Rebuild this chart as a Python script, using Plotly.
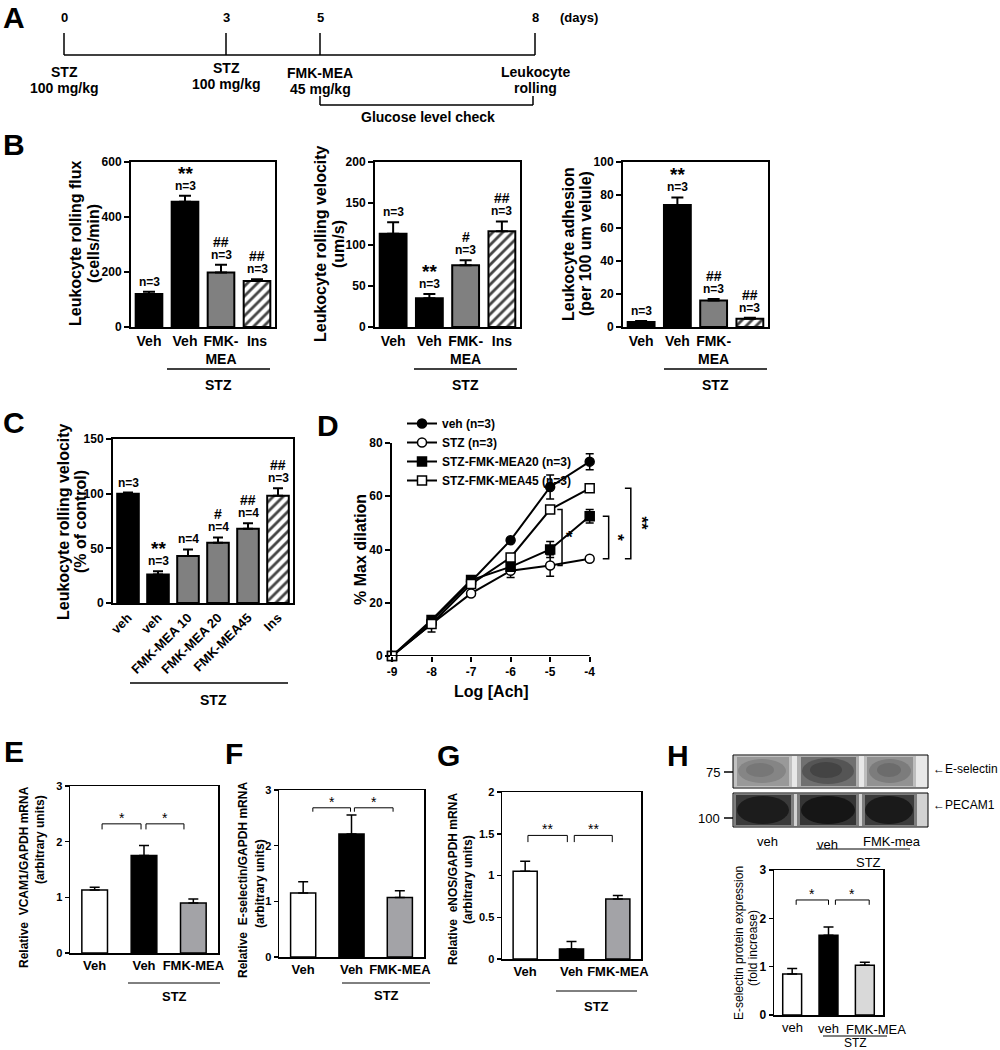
import plotly.graph_objects as go

W, H = 1000, 1050
FONT = "Liberation Sans, Arial, Helvetica, sans-serif"

# ======================= DATA =======================
# A  (timeline)
A_days = ["0", "3", "5", "8"]
A_events = [["STZ", "100 mg/kg"], ["STZ", "100 mg/kg"], ["FMK-MEA", "45 mg/kg"], ["Leukocyte", "rolling"]]
A_window = "Glucose level check"

# B
B_cats = ["Veh", "Veh", "FMK-<br>MEA", "Ins"]
B3_cats = ["Veh", "Veh", "FMK-<br>MEA", ""]
B_n = ["n=3", "n=3", "n=3", "n=3"]
B_flux = [120, 455, 198, 167]
B_flux_err = [8, 22, 28, 7]
B_flux_sig = ["", "**", "##", "##"]
B_vel = [113, 35, 75, 116]
B_vel_err = [14, 5, 6, 12]
B_vel_sig = ["", "**", "#", "##"]
B_adh = [3, 74, 16, 5]
B_adh_err = [0.6, 4.5, 1.0, 0.6]
B_adh_sig = ["", "**", "##", "##"]

# C
C_cats = ["veh", "veh", "FMK-MEA 10", "FMK-MEA 20", "FMK-MEA45", "Ins"]
C_vals = [100, 26, 43, 55, 68, 98]
C_err = [1, 3, 6, 5, 5, 7]
C_n = ["n=3", "n=3", "n=4", "n=4", "n=4", "n=3"]
C_sig = ["", "**", "", "#", "##", "##"]

# D
D_x = [-9, -8, -7, -6, -5, -4]
D_xlabels = ["-9", "-8", "-7", "-6", "-5", "-4"]
D_names = ["veh (n=3)", "STZ (n=3)", "STZ-FMK-MEA20 (n=3)", "STZ-FMK-MEA45 (n=3)"]
D_veh = [0, 13, 28, 43.5, 63.5, 73]
D_veh_err = [0, 1, 1, 0.8, 4.5, 3]
D_stz = [0, 12, 23.5, 32, 34, 36.5]
D_stz_err = [0, 3, 1, 2.5, 4, 0.8]
D_f20 = [0, 13.5, 28.5, 33.5, 40, 52.5]
D_f20_err = [0, 1, 1, 1, 3, 2.5]
D_f45 = [0, 12, 27, 37, 55, 63]
D_f45_err = [0, 1, 1, 1, 1, 1]

# E - H
EFG_cats = ["Veh", "Veh", "FMK-MEA"]
E_vals = [1.13, 1.75, 0.90]
E_err = [0.05, 0.18, 0.07]
F_vals = [1.15, 2.21, 1.07]
F_err = [0.20, 0.34, 0.12]
G_vals = [1.05, 0.12, 0.72]
G_err = [0.12, 0.09, 0.04]
H_cats = ["veh", "veh", "FMK-MEA"]
H_vals = [0.85, 1.65, 1.03]
H_err = [0.11, 0.17, 0.06]
EFGH_sig = ["*", "*", "**", "*"]
H_blot_lanes = ["veh", "veh", "FMK-mea"]
H_blot_markers = ["75", "100"]
H_blot_proteins = ["E-selectin", "PECAM1"]

# ======================= HELPERS =======================
fig = go.Figure()
layout = dict(width=W, height=H, margin=dict(l=0, r=0, t=0, b=0),
              paper_bgcolor="white", plot_bgcolor="white", template="none",
              font=dict(family=FONT, color="black"), hovermode=False, barmode="overlay")
shapes, annots = [], []


def X(p):
    return p / W


def Y(p):
    return 1 - p / H


def font(size, bold=True):
    return dict(family=FONT, size=size, color="black", weight=("bold" if bold else "normal"))


def text(x, y, s, size=14, bold=True, angle=0, xa="center", ya="middle"):
    annots.append(dict(x=X(x), y=Y(y), xref="paper", yref="paper", text=s, showarrow=False,
                       textangle=angle, xanchor=xa, yanchor=ya, font=font(size, bold)))


def seg(x0, y0, x1, y1, w=1.5, c="black"):
    shapes.append(dict(type="line", xref="paper", yref="paper", x0=X(x0), y0=Y(y0),
                       x1=X(x1), y1=Y(y1), line=dict(color=c, width=w)))


def rect(x0, y0, x1, y1, fill, lw=0, lc="black", op=1):
    shapes.append(dict(type="rect", xref="paper", yref="paper", x0=X(x0), y0=Y(y1), x1=X(x1), y1=Y(y0),
                       fillcolor=fill, opacity=op, line=dict(width=lw, color=lc if lw else "rgba(0,0,0,0)")))


def ell(cx, cy, rx, ry, fill, op=1):
    shapes.append(dict(type="circle", xref="paper", yref="paper", x0=X(cx - rx), x1=X(cx + rx),
                       y0=Y(cy + ry), y1=Y(cy - ry), fillcolor=fill, opacity=op,
                       line=dict(width=0, color="rgba(0,0,0,0)")))


def names(i):
    s = "" if i == 1 else str(i)
    return "x" + s, "y" + s, "xaxis" + s, "yaxis" + s


def bar_panel(i, xpx, ypx, cats, vals, errs, colors, patterns, yr, yt, width, lw,
              ytick_size, xtick_size, xbold=True, tickangle=0, ticklen=5, capw=5, show_xlabels=True):
    xr, yrf, xa, ya = names(i)
    n = len(vals)
    layout[xa] = dict(domain=[X(xpx[0]), X(xpx[1])], range=[-0.5, n - 0.5], anchor=yrf,
                      showline=True, mirror=True, linecolor="black", linewidth=lw, ticks="",
                      tickmode="array", tickvals=list(range(n)), ticktext=cats,
                      showticklabels=show_xlabels,
                      tickfont=font(xtick_size, xbold), tickangle=tickangle,
                      showgrid=False, zeroline=False, automargin=False, fixedrange=True)
    layout[ya] = dict(domain=[Y(ypx[1]), Y(ypx[0])], range=yr, anchor=xr, showline=True, mirror=True,
                      linecolor="black", linewidth=lw, ticks="outside", ticklen=ticklen, tickwidth=lw,
                      tickcolor="black", tickmode="array", tickvals=yt, tickfont=font(ytick_size, True),
                      showgrid=False, zeroline=False, automargin=False, fixedrange=True)
    groups = {}
    for k in range(n):
        groups.setdefault(patterns[k], []).append(k)
    for pat, idx in groups.items():
        marker = dict(color=[colors[k] for k in idx], line=dict(color="black", width=lw))
        if pat:
            marker["pattern"] = dict(shape=pat, fgcolor="black", bgcolor="white", fgopacity=1,
                                     size=7, solidity=0.4, fillmode="overlay")
        fig.add_trace(go.Bar(
            x=idx, y=[vals[k] for k in idx], width=width, xaxis=xr, yaxis=yrf, marker=marker,
            error_y=dict(type="data", symmetric=False, array=[errs[k] for k in idx],
                         arrayminus=[0] * len(idx), color="black", thickness=lw, width=capw),
            showlegend=False, hoverinfo="skip"))


def bar_marks(i, vals, errs, ns, sigs, nsize=12):
    xr, yrf, _, _ = names(i)
    for k, (v, e) in enumerate(zip(vals, errs)):
        top = v + e
        if ns[k]:
            annots.append(dict(x=k, y=top, xref=xr, yref=yrf, text=ns[k], showarrow=False,
                               yanchor="bottom", yshift=1, font=font(nsize)))
        if sigs[k]:
            star = "*" in sigs[k]
            annots.append(dict(x=k, y=top, xref=xr, yref=yrf, text=sigs[k], showarrow=False,
                               yanchor="bottom", yshift=(10 if star else 13),
                               font=font(19 if star else 14)))


def brackets(i, spans, yv, drop, sig, size=14):
    xr, yrf, _, _ = names(i)
    for (x0, x1) in spans:
        shapes.append(dict(type="path", xref=xr, yref=yrf,
                           path=f"M {x0},{yv - drop} L {x0},{yv} L {x1},{yv} L {x1},{yv - drop}",
                           line=dict(color="black", width=1)))
        annots.append(dict(x=(x0 + x1) / 2, y=yv, xref=xr, yref=yrf, text=sig, showarrow=False,
                           yanchor="bottom", yshift=-4, font=font(size, False)))


# ======================= PANEL A =======================
A_xpos = [64, 226, 320, 535]
A_ev_y = [72, 68, 73, 72]
seg(A_xpos[0], 55, A_xpos[-1], 55, 1.5)
for k, d in enumerate(A_days):
    seg(A_xpos[k], 33, A_xpos[k], 55, 1.5)
    text(A_xpos[k], 18, d, 13)
    text(A_xpos[k], A_ev_y[k], A_events[k][0], 14)
    text(A_xpos[k], A_ev_y[k] + 16, A_events[k][1], 14)
text(558, 18, "(days)", 13, xa="left")
seg(A_xpos[2], 96, A_xpos[2], 105, 1.5)
seg(A_xpos[2], 105, A_xpos[3] - 2, 105, 1.5)
seg(A_xpos[3] - 2, 105, A_xpos[3] - 2, 96, 1.5)
text((A_xpos[2] + A_xpos[3]) / 2, 117, A_window, 14)

# ======================= PANEL B =======================
B_colors = ["black", "black", "#808080", "white"]
B_pat = ["", "", "", "/"]
bar_panel(1, (131, 275), (162, 327), B_cats, B_flux, B_flux_err, B_colors, B_pat,
          [0, 600], [0, 200, 400, 600], 0.74, 2, 12, 14, capw=6)
bar_marks(1, B_flux, B_flux_err, B_n, B_flux_sig)
bar_panel(2, (375, 520), (162, 327), B_cats, B_vel, B_vel_err, B_colors, B_pat,
          [0, 200], [0, 50, 100, 150, 200], 0.74, 2, 12, 14, capw=6)
bar_marks(2, B_vel, B_vel_err, B_n, B_vel_sig)
bar_panel(3, (623, 768), (162, 327), B3_cats, B_adh, B_adh_err, B_colors, B_pat,
          [0, 100], [0, 20, 40, 60, 80, 100], 0.74, 2, 12, 14, capw=6)
bar_marks(3, B_adh, B_adh_err, B_n, B_adh_sig)

text(76, 244, "Leukocyte rolling flux", 16, angle=-90)
text(94, 244, "(cells/min)", 16, angle=-90)
text(321, 244, "Leukocyte rolling velocity", 16, angle=-90)
text(339, 244, "(um/s)", 16, angle=-90)
text(569, 244, "Leukocyte adhesion", 16, angle=-90)
text(586, 244, "(per 100 um velule)", 16, angle=-90)
for (x0, x1) in [(167, 270), (414, 517), (664, 767)]:
    seg(x0, 369, x1, 369, 1.5)
    text((x0 + x1) / 2, 385, "STZ", 14)

# ======================= PANEL C =======================
C_colors = ["black", "black", "#808080", "#808080", "#808080", "white"]
C_pat = ["", "", "", "", "", "/"]
bar_panel(4, (113, 293), (439, 603), C_cats, C_vals, C_err, C_colors, C_pat,
          [0, 150], [0, 50, 100, 150], 0.72, 2, 12, 13, tickangle=-45, capw=5)
bar_marks(4, C_vals, C_err, C_n, C_sig)
text(63, 522, "Leukocyte rolling velocity", 16, angle=-90)
text(80, 522, "(% of control)", 16, angle=-90)
seg(130, 683, 288, 683, 1.5)
text(213, 700, "STZ", 14)

# ======================= PANEL D =======================
layout["xaxis5"] = dict(domain=[X(392), X(649)], range=[-9, -2.5], anchor="y5", showline=False,
                        ticks="outside", ticklen=5, tickwidth=2, tickcolor="black", tickmode="array",
                        tickvals=D_x, ticktext=D_xlabels, tickfont=font(12), showgrid=False,
                        zeroline=False, automargin=False, fixedrange=True)
layout["yaxis5"] = dict(domain=[Y(656), Y(443)], range=[0, 80], anchor="x5", showline=True,
                        linewidth=2, linecolor="black", ticks="outside", ticklen=5, tickwidth=2,
                        tickcolor="black", tickmode="array", tickvals=[0, 20, 40, 60, 80],
                        tickfont=font(12), showgrid=False, zeroline=False, automargin=False,
                        fixedrange=True)
shapes.append(dict(type="line", xref="x5", yref="y5", x0=D_x[0], y0=0, x1=D_x[-1], y1=0,
                   line=dict(color="black", width=2)))
D_series = [(D_veh, D_veh_err, "circle", "black"), (D_stz, D_stz_err, "circle", "white"),
            (D_f20, D_f20_err, "square", "black"), (D_f45, D_f45_err, "square", "white")]
for name, (ys, es, sym, fill) in zip(D_names, D_series):
    fig.add_trace(go.Scatter(x=D_x, y=ys, mode="lines+markers", name=name, xaxis="x5", yaxis="y5",
                             line=dict(color="black", width=2),
                             marker=dict(symbol=sym, size=9, color=fill, line=dict(color="black", width=1.5)),
                             error_y=dict(type="data", array=es, color="black", thickness=1.5, width=4),
                             cliponaxis=False, hoverinfo="skip"))
layout["legend"] = dict(x=X(402), y=Y(409), xanchor="left", yanchor="top", font=font(12),
                        bgcolor="rgba(0,0,0,0)", borderwidth=0, tracegroupgap=0, itemwidth=30)
layout["showlegend"] = True


def d_bracket(xv, y0, y1, dx, sig, sx, angle):
    shapes.append(dict(type="path", xref="x5", yref="y5",
                       path=f"M {xv - dx},{y0} L {xv},{y0} L {xv},{y1} L {xv - dx},{y1}",
                       line=dict(color="black", width=1.5)))
    annots.append(dict(x=sx, y=(y0 + y1) / 2, xref="x5", yref="y5", text=sig, showarrow=False,
                       textangle=angle, font=font(17)))


d_bracket(-4.70, D_stz[4], D_f45[4], 0.12, "*", -4.50, 0)
d_bracket(-3.52, D_stz[5], D_f20[5], 0.15, "*", -3.30, 90)
d_bracket(-2.96, D_stz[5], D_f45[5], 0.15, "**", -2.70, 90)
text(360, 550, "% Max dilation", 16, angle=-90)
text(491, 692, "Log [Ach]", 16)

# ======================= PANELS E, F, G =======================
EFG_colors = ["white", "black", "#a3a3a7"]
EFG_pat = ["", "", ""]
bar_panel(6, (70, 218), (786, 953), EFG_cats, E_vals, E_err, EFG_colors, EFG_pat,
          [0, 3], [0, 1, 2, 3], 0.52, 1.5, 11, 13, ticklen=4, capw=5)
brackets(6, [(0.15, 0.94), (1.04, 1.81)], 2.32, 0.1, EFGH_sig[0])
bar_panel(7, (279, 424), (790, 957), EFG_cats, F_vals, F_err, EFG_colors, EFG_pat,
          [0, 3], [0, 1, 2, 3], 0.52, 1.5, 11, 13, ticklen=4, capw=5)
brackets(7, [(0.2, 0.98), (1.06, 1.86)], 2.68, 0.07, EFGH_sig[1])
bar_panel(8, (502, 641), (792, 959), EFG_cats, G_vals, G_err, EFG_colors, EFG_pat,
          [0, 2], [0, 0.5, 1, 1.5, 2], 0.52, 1.5, 11, 13, ticklen=4, capw=5)
brackets(8, [(0.06, 0.91), (1.06, 1.88)], 1.48, 0.08, EFGH_sig[2])

text(24, 877, "Relative  VCAM1/GAPDH mRNA", 12, angle=-90)
text(40, 840, "(arbitrary units)", 12, angle=-90)
text(243, 880, "Relative  E-selectin/GAPDH mRNA", 12, angle=-90)
text(260, 884, "(arbitrary units)", 12, angle=-90)
text(453, 879, "Relative  eNOS/GAPDH mRNA", 12, angle=-90)
text(468, 880, "(arbitrary units)", 12, angle=-90)
for (x0, x1, yl, yt) in [(128, 220, 983, 996), (342, 430, 983, 995), (556, 637, 991, 1006)]:
    seg(x0, yl, x1, yl, 1)
    text((x0 + x1) / 2, yt, "STZ", 13)

# ======================= PANEL H =======================
H_colors = ["white", "black", "#d9d9d9"]
bar_panel(9, (774, 883), (870, 1015), H_cats, H_vals, H_err, H_colors, ["", "", ""],
          [0, 3], [0, 1, 2, 3], 0.52, 1.5, 12, 12, xbold=False, ticklen=4, capw=5,
          show_xlabels=False)
H_label_shift = [0, 0, 11]
for k, lab in enumerate(H_cats):
    annots.append(dict(x=k, y=0, xref="x9", yref="y9", text=lab, showarrow=False, yanchor="top",
                       yshift=-3 - k, xshift=H_label_shift[k], font=font(13, False)))
brackets(9, [(0.11, 1.0), (1.19, 2.12)], 2.38, 0.1, EFGH_sig[3])
text(739, 943, "E-selectin protein expression", 12, bold=False, angle=-90)
text(753, 948, "(fold increase)", 12, bold=False, angle=-90)
seg(823, 1036, 887, 1036, 1)
text(855, 1043, "STZ", 12, bold=False)

# western blot (picture drawn with shapes)
rect(733, 755, 928, 788, "#e8e8e8")
rect(733, 756, 792, 787, "#a6a6a6", op=0.6)
rect(737, 757, 789, 786, "#999999")
ell(762, 771, 24, 12, "#858585")
ell(760, 770, 14, 7, "#777777")
rect(797, 756, 859, 787, "#8a8a8a", op=0.6)
rect(801, 757, 856, 786, "#707070")
ell(828, 771, 26, 13, "#555555")
ell(826, 770, 16, 8, "#444444")
rect(864, 756, 916, 787, "#a0a0a0", op=0.6)
rect(867, 757, 913, 786, "#929292")
ell(890, 771, 21, 12, "#7c7c7c")
ell(889, 770, 12, 7, "#6c6c6c")
rect(733, 755, 928, 788, "rgba(0,0,0,0)", lw=1)

rect(733, 793, 928, 827, "#d2d2d2")
rect(734, 794, 794, 826, "#5a5a5a", op=0.7)
rect(736, 795, 791, 825, "#3a3a3a")
ell(763, 810, 26, 14, "#1c1c1c")
rect(797, 794, 859, 826, "#555555", op=0.7)
rect(800, 795, 856, 825, "#353535")
ell(828, 810, 27, 14, "#161616")
rect(862, 794, 917, 826, "#5a5a5a", op=0.7)
rect(865, 795, 914, 825, "#3c3c3c")
ell(889, 810, 24, 14, "#1a1a1a")
rect(733, 793, 928, 827, "rgba(0,0,0,0)", lw=1)

text(722, 772, H_blot_markers[0], 13, bold=False, xa="right")
seg(724, 772, 733, 772, 1.5)
text(722, 818, H_blot_markers[1], 13, bold=False, xa="right")
seg(724, 818, 733, 818, 1.5)
text(931, 769, "\u2190" + H_blot_proteins[0], 12, bold=False, xa="left")
text(931, 805, "\u2190" + H_blot_proteins[1], 12, bold=False, xa="left")
for xl, yl, lab in zip([767, 827, 892], [841, 844, 841], H_blot_lanes):
    text(xl, yl, lab, 13, bold=False)
seg(816, 849, 910, 849, 1)
text(868, 862, "STZ", 13, bold=False)

# ======================= PANEL LETTERS =======================
for lx, ly, L in [(14, 18, "A"), (14, 145, "B"), (14, 422, "C"), (328, 425, "D"),
                  (14, 751, "E"), (234, 753, "F"), (448, 755, "G"), (678, 755, "H")]:
    text(lx, ly, L, 30)

layout["shapes"] = shapes
layout["annotations"] = annots
fig.update_layout(**layout)
fig.write_html("out.html", config={"displayModeBar": False, "staticPlot": True},
               post_script="document.body.style.margin='0px';document.body.style.padding='0px';"
                           "document.body.style.overflow='hidden';")
